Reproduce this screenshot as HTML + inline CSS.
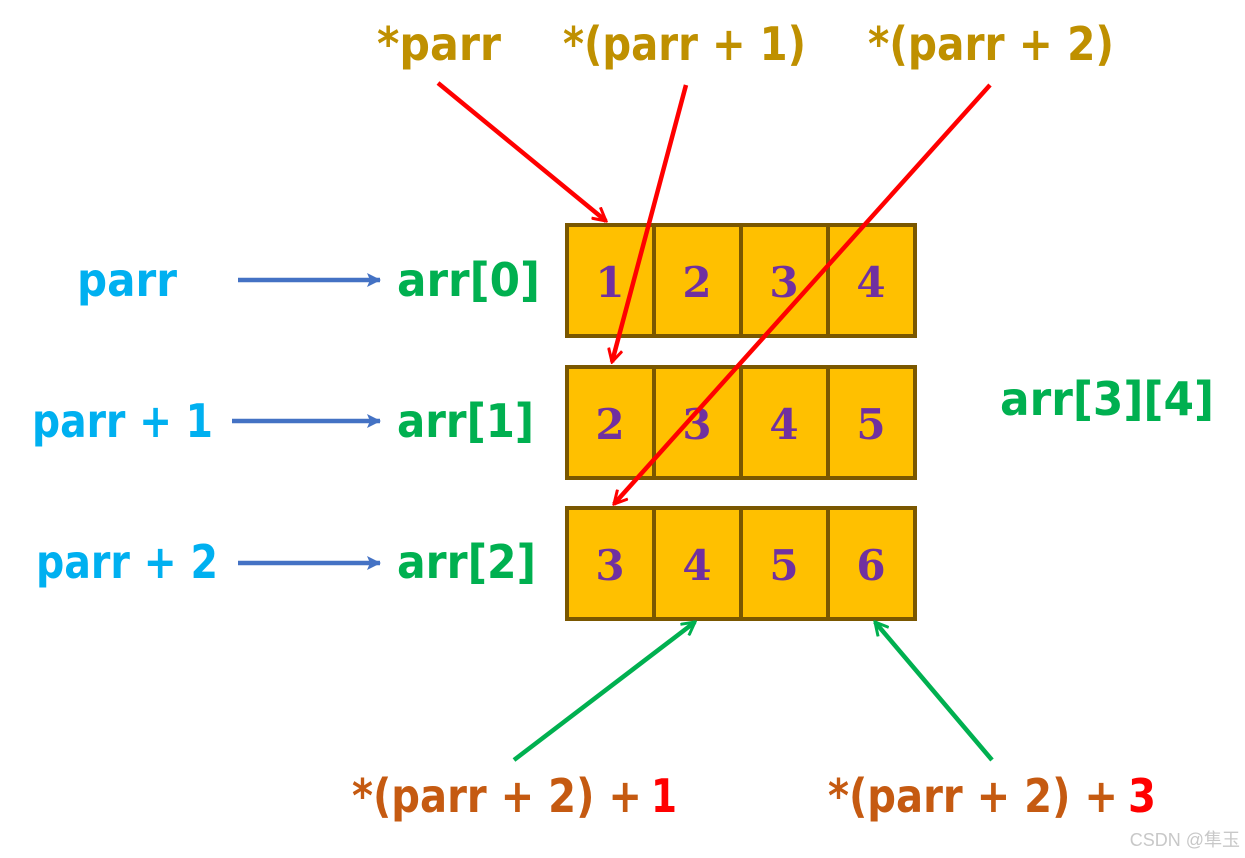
<!DOCTYPE html>
<html><head><meta charset="utf-8"><style>body{margin:0;background:#fff}svg{display:block}</style></head><body>
<svg width="1245" height="858" viewBox="0 0 1245 858" xmlns="http://www.w3.org/2000/svg">
<defs>
<marker id="mr" markerWidth="16" markerHeight="16" refX="14" refY="8" orient="auto" markerUnits="userSpaceOnUse"><path d="M1,1 L14,8 L1,15" fill="none" stroke="#ff0000" stroke-width="3"/></marker>
<marker id="mb" markerWidth="14" markerHeight="14" refX="13" refY="7" orient="auto" markerUnits="userSpaceOnUse"><path d="M0,0 L14,7 L0,14 L3,7 Z" fill="#4472c4"/></marker>
<marker id="mg" markerWidth="16" markerHeight="16" refX="14" refY="8" orient="auto" markerUnits="userSpaceOnUse"><path d="M1,1 L14,8 L1,15" fill="none" stroke="#00b050" stroke-width="3"/></marker>
</defs>
<g fill="#ffc000" stroke="#7a5700" stroke-width="4">
<rect x="567" y="225" width="348" height="111"/><rect x="567" y="367" width="348" height="111"/><rect x="567" y="508" width="348" height="111"/>
<path d="M654,225V336M741,225V336M828,225V336M654,367V478M741,367V478M828,367V478M654,508V619M741,508V619M828,508V619"/>
</g>
<g font-family="DejaVu Serif,Liberation Serif,serif" font-weight="bold" font-size="42" fill="#7030a0" text-anchor="middle">
<text x="610" y="297">1</text><text x="697" y="297">2</text><text x="784" y="297">3</text><text x="871" y="297">4</text>
<text x="610" y="439">2</text><text x="697" y="439">3</text><text x="784" y="439">4</text><text x="871" y="439">5</text>
<text x="610" y="580">3</text><text x="697" y="580">4</text><text x="784" y="580">5</text><text x="871" y="580">6</text>
</g>
<g font-family="DejaVu Sans,Liberation Sans,sans-serif" font-weight="bold" font-size="46">
<text x="377" y="60" fill="#bf9000" textLength="124" lengthAdjust="spacingAndGlyphs">*parr</text>
<text x="563" y="60" fill="#bf9000" textLength="243" lengthAdjust="spacingAndGlyphs">*(parr + 1)</text>
<text x="868" y="60" fill="#bf9000" textLength="246" lengthAdjust="spacingAndGlyphs">*(parr + 2)</text>
<text x="77" y="296" fill="#00b0f0" textLength="100" lengthAdjust="spacingAndGlyphs">parr</text>
<text x="32" y="437" fill="#00b0f0" textLength="181" lengthAdjust="spacingAndGlyphs">parr + 1</text>
<text x="36" y="578" fill="#00b0f0" textLength="182" lengthAdjust="spacingAndGlyphs">parr + 2</text>
<text x="397" y="296" fill="#00b050" textLength="143" lengthAdjust="spacingAndGlyphs">arr[0]</text>
<text x="397" y="437" fill="#00b050" textLength="137" lengthAdjust="spacingAndGlyphs">arr[1]</text>
<text x="397" y="578" fill="#00b050" textLength="139" lengthAdjust="spacingAndGlyphs">arr[2]</text>
<text x="1000" y="415" fill="#00b050" textLength="214" lengthAdjust="spacingAndGlyphs">arr[3][4]</text>
<text x="352" y="812" fill="#c55a11" textLength="290" lengthAdjust="spacingAndGlyphs">*(parr + 2) +</text>
<text x="651" y="812" fill="#ff0000" textLength="26" lengthAdjust="spacingAndGlyphs">1</text>
<text x="828" y="812" fill="#c55a11" textLength="290" lengthAdjust="spacingAndGlyphs">*(parr + 2) +</text>
<text x="1128" y="812" fill="#ff0000" textLength="28" lengthAdjust="spacingAndGlyphs">3</text>
</g>
<g stroke-width="4.5" fill="none">
<line x1="438" y1="83" x2="606" y2="221" stroke="#ff0000" marker-end="url(#mr)"/>
<line x1="686" y1="85" x2="612" y2="362" stroke="#ff0000" marker-end="url(#mr)"/>
<line x1="990" y1="85" x2="614" y2="504" stroke="#ff0000" marker-end="url(#mr)"/>
<line x1="238" y1="280" x2="380" y2="280" stroke="#4472c4" marker-end="url(#mb)"/>
<line x1="232" y1="421" x2="380" y2="421" stroke="#4472c4" marker-end="url(#mb)"/>
<line x1="238" y1="563" x2="380" y2="563" stroke="#4472c4" marker-end="url(#mb)"/>
<line x1="514" y1="760" x2="695" y2="622" stroke="#00b050" marker-end="url(#mg)"/>
<line x1="992" y1="760" x2="875" y2="622" stroke="#00b050" marker-end="url(#mg)"/>
</g>
<text x="1240" y="846" text-anchor="end" font-family="Liberation Sans,'Noto Sans CJK SC',sans-serif" font-size="18" fill="#c8c8c8">CSDN @隼玉</text>
</svg>
</body></html>
